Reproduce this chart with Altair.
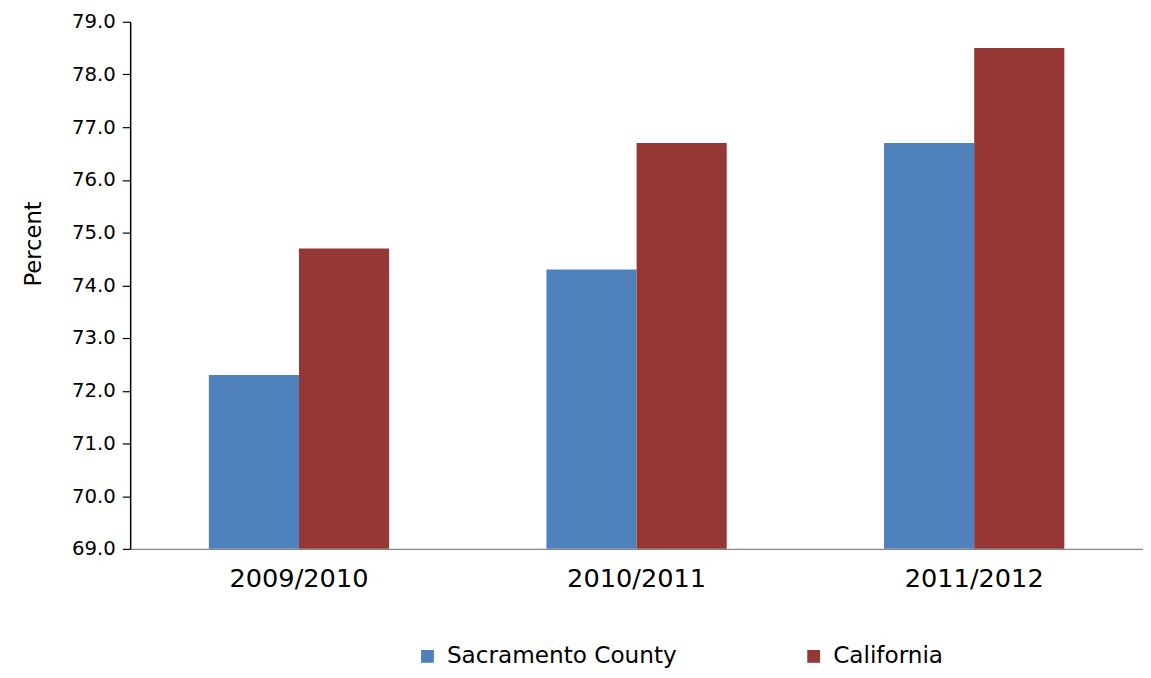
import altair as alt
import pandas as pd

years = ["2009/2010", "2010/2011", "2011/2012"]
series = ["Sacramento County", "California"]
sacramento = [72.3, 74.3, 76.7]
california = [74.7, 76.7, 78.5]
colors = ["#4F81BD", "#953735"]
y_ticks = [69, 70, 71, 72, 73, 74, 75, 76, 77, 78, 79]

rows = []
for i, y in enumerate(years):
    rows.append({"year": y, "series": series[0], "value": sacramento[i]})
    rows.append({"year": y, "series": series[1], "value": california[i]})
df = pd.DataFrame(rows)

FONT = "DejaVu Sans"

chart = alt.Chart(df).mark_bar(clip=True).encode(
    x=alt.X("year:N", sort=years, title=None,
            scale=alt.Scale(paddingInner=0.466, paddingOuter=0.233),
            axis=alt.Axis(labelAngle=0, labelFontSize=26, labelColor="#000000",
                          labelFont=FONT, ticks=False, labelPadding=17,
                          domainColor="#868686", domainWidth=1.5)),
    xOffset=alt.XOffset("series:N", sort=series),
    y=alt.Y("value:Q", title="Percent",
            scale=alt.Scale(domain=[69, 79], nice=False, zero=False),
            axis=alt.Axis(values=y_ticks,
                          format=".1f", grid=False, labelFontSize=20,
                          labelFont=FONT, labelColor="#000000",
                          titleFont=FONT, titleFontSize=23, titleFontWeight="normal",
                          titleColor="#000000", titleX=-86, titleY=225,
                          domainColor="#000000", domainWidth=1.5,
                          tickColor="#000000", tickSize=8, tickWidth=1.2,
                          labelPadding=7)),
    color=alt.Color("series:N", sort=series,
                    scale=alt.Scale(domain=series, range=colors),
                    legend=alt.Legend(title=None, orient="none", direction="horizontal",
                                      legendX=290, legendY=632, padding=0,
                                      symbolType="square", symbolSize=169,
                                      symbolStrokeWidth=0, symbolOpacity=1,
                                      labelOffset=8, labelLimit=0,
                                      labelFontSize=23.5, labelFont=FONT,
                                      labelColor="#000000", columnPadding=127)),
).properties(
    width=1028, height=535,
    autosize=alt.AutoSizeParams(type="none"),
    padding={"left": 124, "top": 9, "right": 0, "bottom": 120},
).configure_view(stroke=None)

chart.save("out.html", embed_options={"renderer": "svg", "actions": False})
